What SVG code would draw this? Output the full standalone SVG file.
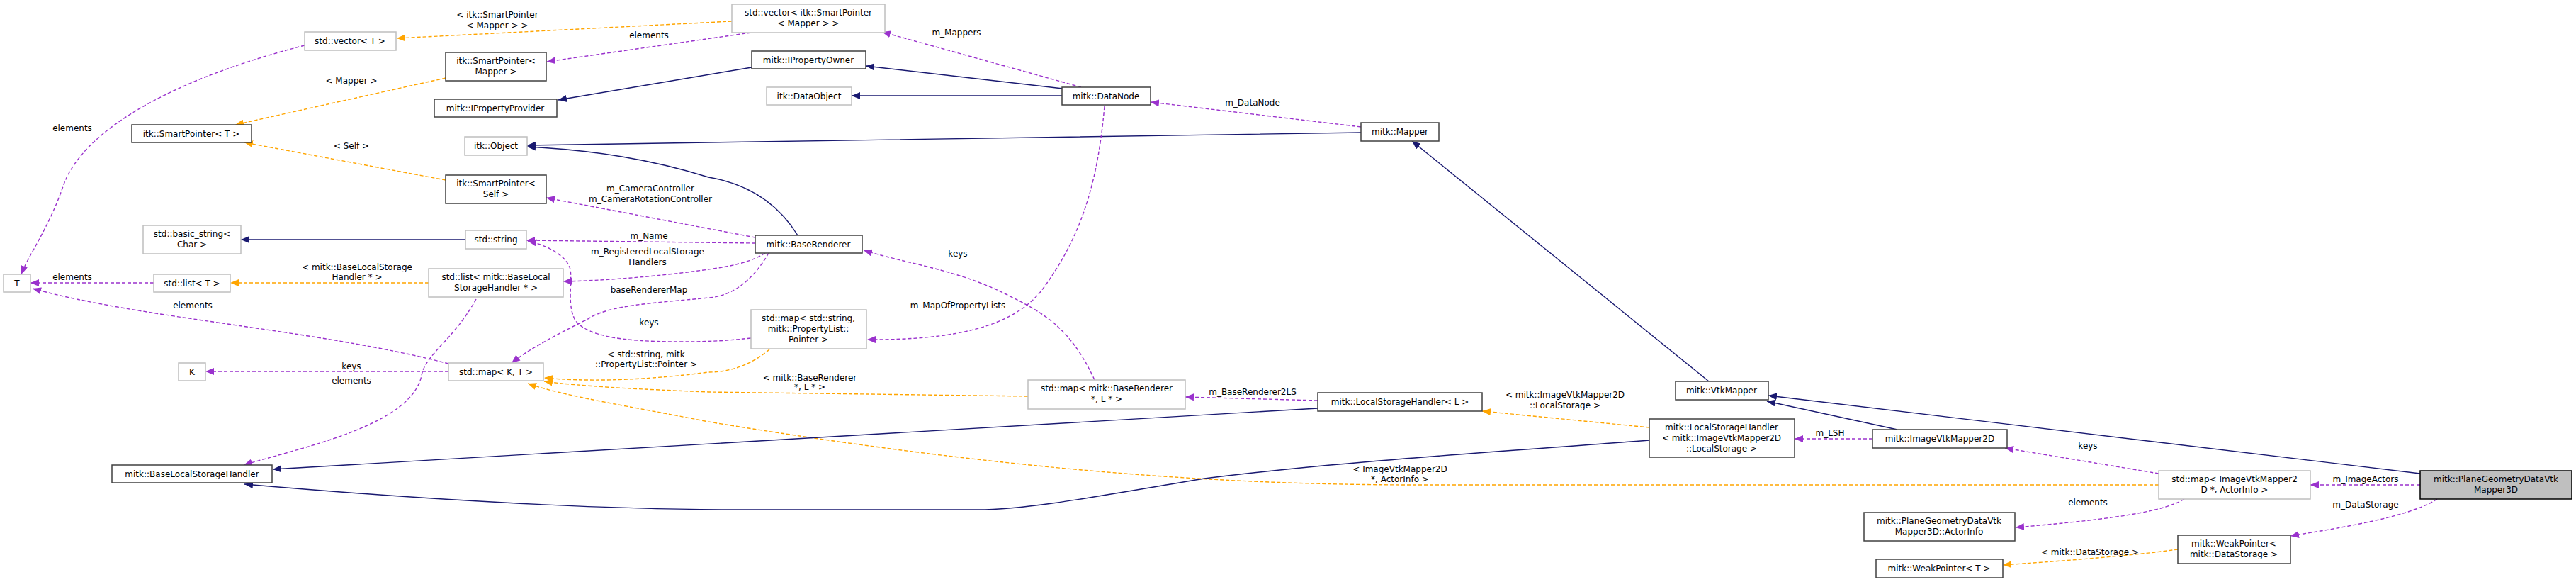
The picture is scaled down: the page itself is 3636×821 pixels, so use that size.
<svg xmlns="http://www.w3.org/2000/svg" width="3636" height="821" viewBox="0 0 3636 821">
<style>
text{font-family:"DejaVu Sans","Liberation Sans",sans-serif;font-size:12px;fill:#000;text-anchor:middle}
.n rect{fill:#fff;stroke:#404040;stroke-width:1.5}
.u rect{fill:#fff;stroke:#bfbfbf;stroke-width:1.5}
.s rect{fill:#bfbfbf;stroke:#000;stroke-width:1.5}
.inh{fill:none;stroke:#191970;stroke-width:1.4;marker-end:url(#an)}
.use{fill:none;stroke:#9a32cd;stroke-width:1.4;stroke-dasharray:5,3;marker-end:url(#ap)}
.tpl{fill:none;stroke:#ffa500;stroke-width:1.4;stroke-dasharray:5,3;marker-end:url(#ao)}
</style>
<defs>
<marker id="an" markerUnits="userSpaceOnUse" markerWidth="12" markerHeight="10" refX="12" refY="5" orient="auto"><path d="M0,0 L12,5 L0,10 z" fill="#191970"/></marker>
<marker id="ap" markerUnits="userSpaceOnUse" markerWidth="12" markerHeight="10" refX="12" refY="5" orient="auto"><path d="M0,0 L12,5 L0,10 z" fill="#9a32cd"/></marker>
<marker id="ao" markerUnits="userSpaceOnUse" markerWidth="12" markerHeight="10" refX="12" refY="5" orient="auto"><path d="M0,0 L12,5 L0,10 z" fill="#ffa500"/></marker>
</defs>
<rect width="3636" height="821" fill="#fff"/>
<g id="edges">
<path class="tpl" d="M1033,30 L560,54"/>
<text x="702" y="25">&lt; itk::SmartPointer</text><text x="702" y="40">&lt; Mapper &gt; &gt;</text>
<path class="use" d="M1060,46 L772,87"/>
<text x="916" y="54">elements</text>
<path class="tpl" d="M629,110 L332,176"/>
<text x="496" y="118">&lt; Mapper &gt;</text>
<path class="use" d="M430,64 C250,110 120,180 90,260 C70,320 40,360 30,387"/>
<text x="102" y="185">elements</text>
<path class="inh" d="M1061,95 L788,141"/>
<path class="inh" d="M1500,125 L1222,93"/>
<path class="inh" d="M1499,135 L1202,135"/>
<path class="use" d="M1526,123 L1245,45"/>
<text x="1350" y="50">m_Mappers</text>
<path class="use" d="M1921,179 L1624,144"/>
<text x="1768" y="149">m_DataNode</text>
<path class="inh" d="M1921,187 L1000,201 L744,205"/>
<path class="inh" d="M1126,332 C1100,290 1060,260 1000,250 C920,225 840,212 744,207"/>
<path class="use" d="M1066,335 L771,279"/>
<text x="918" y="270">m_CameraController</text><text x="918" y="285">m_CameraRotationController</text>
<path class="tpl" d="M629,254 L345,201"/>
<text x="496" y="210">&lt; Self &gt;</text>
<path class="inh" d="M657,338 L340,338"/>
<path class="use" d="M1066,343 L743,339"/>
<text x="916" y="337">m_Name</text>
<path class="use" d="M1080,357 C1060,370 1030,376 1000,380 C930,390 850,396 795,397"/>
<text x="914" y="359">m_RegisteredLocalStorage</text><text x="914" y="374">Handlers</text>
<path class="tpl" d="M605,399 L325,399"/>
<text x="504" y="381">&lt; mitk::BaseLocalStorage</text><text x="504" y="395">Handler * &gt;</text>
<path class="use" d="M217,399 L43,399"/>
<text x="102" y="395">elements</text>
<path class="use" d="M633,513 C450,465 200,450 46,407"/>
<text x="272" y="435">elements</text>
<path class="use" d="M633,524 L290,524"/>
<text x="496" y="521">keys</text>
<path class="use" d="M672,422 C640,480 600,500 595,530 C580,600 430,630 344,656"/>
<text x="496" y="541">elements</text>
<path class="use" d="M1085,357 C1060,400 1030,418 1000,420 C920,428 860,430 830,450 C790,470 750,490 722,512"/>
<text x="916" y="413">baseRendererMap</text>
<path class="use" d="M1060,477 C1030,480 1010,482 960,482 C880,482 830,475 812,452 C800,430 808,400 805,380 C800,360 770,345 745,340"/>
<text x="916" y="459">keys</text>
<path class="tpl" d="M1086,493 C1060,515 1030,525 1000,525 C900,538 820,538 768,533"/>
<text x="912" y="504">&lt; std::string, mitk</text><text x="912" y="518">::PropertyList::Pointer &gt;</text>
<path class="tpl" d="M1451,559 L1000,553 C900,549 820,545 768,538"/>
<text x="1143" y="537">&lt; mitk::BaseRenderer</text><text x="1143" y="550">*, L * &gt;</text>
<path class="tpl" d="M3047,684 L2000,684 C1700,684 1400,660 1000,595 C900,575 800,560 745,541"/>
<text x="1976" y="666">&lt; ImageVtkMapper2D</text><text x="1976" y="680">*, ActorInfo &gt;</text>
<path class="use" d="M1860,565 L1673,560"/>
<text x="1768" y="557">m_BaseRenderer2LS</text>
<path class="inh" d="M1860,576 L385,662"/>
<path class="inh" d="M2328,621 C2150,635 1900,650 1700,675 C1550,700 1450,719 1380,719 L1050,719 C850,719 600,705 345,683"/>
<path class="tpl" d="M2328,603 L2092,580"/>
<text x="2209" y="561">&lt; mitk::ImageVtkMapper2D</text><text x="2209" y="576">::LocalStorage &gt;</text>
<path class="use" d="M2643,619 L2533,619"/>
<text x="2583" y="615">m_LSH</text>
<path class="inh" d="M2678,606 L2494,566"/>
<path class="inh" d="M2412,538 L1993,199"/>
<path class="inh" d="M3416,668 L2496,558"/>
<path class="use" d="M3416,684 L3261,684"/>
<text x="3339" y="680">m_ImageActors</text>
<path class="use" d="M3047,668 L2830,632"/>
<text x="2947" y="633">keys</text>
<path class="use" d="M3083,704 C3050,725 2950,735 2845,744"/>
<text x="2947" y="713">elements</text>
<path class="use" d="M3440,704 C3400,730 3300,745 3233,756"/>
<text x="3339" y="716">m_DataStorage</text>
<path class="tpl" d="M3074,775 C3000,785 2900,792 2827,797"/>
<text x="2950" y="783">&lt; mitk::DataStorage &gt;</text>
<path class="use" d="M1559,150 C1550,250 1530,330 1470,410 C1430,460 1350,480 1224,479"/>
<text x="1352" y="435">m_MapOfPropertyLists</text>
<path class="use" d="M1545,536 C1510,460 1470,440 1420,415 C1350,380 1280,372 1219,353"/>
<text x="1352" y="362">keys</text>
</g>
<g id="n_vecT" class="u"><rect x="430" y="45" width="129" height="26"/><text x="494" y="62">std::vector&lt; T &gt;</text></g>
<g id="n_vecSP" class="u"><rect x="1033" y="6" width="216" height="40"/><text x="1141" y="22">std::vector&lt; itk::SmartPointer</text><text x="1141" y="37">&lt; Mapper &gt; &gt;</text></g>
<g id="n_spMapper" class="n"><rect x="629" y="74" width="142" height="40"/><text x="700" y="90">itk::SmartPointer&lt;</text><text x="700" y="105">Mapper &gt;</text></g>
<g id="n_ipp" class="n"><rect x="613" y="140" width="173" height="25"/><text x="699" y="157">mitk::IPropertyProvider</text></g>
<g id="n_spT" class="n"><rect x="186" y="176" width="169" height="25"/><text x="270" y="193">itk::SmartPointer&lt; T &gt;</text></g>
<g id="n_itkObject" class="u"><rect x="656" y="193" width="88" height="26"/><text x="700" y="210">itk::Object</text></g>
<g id="n_spSelf" class="n"><rect x="629" y="247" width="142" height="40"/><text x="700" y="263">itk::SmartPointer&lt;</text><text x="700" y="278">Self &gt;</text></g>
<g id="n_bstr" class="u"><rect x="202" y="318" width="138" height="40"/><text x="271" y="334">std::basic_string&lt;</text><text x="271" y="349">Char &gt;</text></g>
<g id="n_str" class="u"><rect x="657" y="325" width="86" height="26"/><text x="700" y="342">std::string</text></g>
<g id="n_T" class="u"><rect x="5" y="387" width="38" height="25"/><text x="24" y="404">T</text></g>
<g id="n_listT" class="u"><rect x="217" y="387" width="108" height="25"/><text x="271" y="404">std::list&lt; T &gt;</text></g>
<g id="n_listB" class="u"><rect x="605" y="379" width="190" height="40"/><text x="700" y="395">std::list&lt; mitk::BaseLocal</text><text x="700" y="410">StorageHandler * &gt;</text></g>
<g id="n_K" class="u"><rect x="252" y="512" width="38" height="25"/><text x="271" y="529">K</text></g>
<g id="n_mapKT" class="u"><rect x="633" y="512" width="134" height="25"/><text x="700" y="529">std::map&lt; K, T &gt;</text></g>
<g id="n_blsh" class="n"><rect x="158" y="656" width="226" height="25"/><text x="271" y="673">mitk::BaseLocalStorageHandler</text></g>
<g id="n_ipo" class="n"><rect x="1061" y="72" width="161" height="25"/><text x="1141" y="89">mitk::IPropertyOwner</text></g>
<g id="n_dobj" class="u"><rect x="1082" y="123" width="120" height="25"/><text x="1142" y="140">itk::DataObject</text></g>
<g id="n_dnode" class="n"><rect x="1499" y="123" width="125" height="25"/><text x="1561" y="140">mitk::DataNode</text></g>
<g id="n_mapper" class="n"><rect x="1921" y="173" width="110" height="26"/><text x="1976" y="190">mitk::Mapper</text></g>
<g id="n_br" class="n"><rect x="1066" y="332" width="151" height="25"/><text x="1141" y="349">mitk::BaseRenderer</text></g>
<g id="n_mapSP" class="u"><rect x="1060" y="437" width="163" height="55"/><text x="1141" y="453">std::map&lt; std::string,</text><text x="1141" y="468">mitk::PropertyList::</text><text x="1141" y="483">Pointer &gt;</text></g>
<g id="n_mapBR" class="u"><rect x="1451" y="536" width="222" height="41"/><text x="1562" y="552">std::map&lt; mitk::BaseRenderer</text><text x="1562" y="567">*, L * &gt;</text></g>
<g id="n_lshL" class="n"><rect x="1860" y="554" width="232" height="26"/><text x="1976" y="571">mitk::LocalStorageHandler&lt; L &gt;</text></g>
<g id="n_vtk" class="n"><rect x="2365" y="538" width="131" height="26"/><text x="2430" y="555">mitk::VtkMapper</text></g>
<g id="n_lshI" class="n"><rect x="2328" y="591" width="205" height="54"/><text x="2430" y="607">mitk::LocalStorageHandler</text><text x="2430" y="622">&lt; mitk::ImageVtkMapper2D</text><text x="2430" y="637">::LocalStorage &gt;</text></g>
<g id="n_ivm" class="n"><rect x="2643" y="606" width="190" height="26"/><text x="2738" y="623">mitk::ImageVtkMapper2D</text></g>
<g id="n_mapIA" class="u"><rect x="3047" y="664" width="214" height="40"/><text x="3154" y="680">std::map&lt; ImageVtkMapper2</text><text x="3154" y="695">D *, ActorInfo &gt;</text></g>
<g id="n_pg" class="s"><rect x="3416" y="664" width="214" height="40"/><text x="3523" y="680">mitk::PlaneGeometryDataVtk</text><text x="3523" y="695">Mapper3D</text></g>
<g id="n_ai" class="n"><rect x="2631" y="723" width="213" height="40"/><text x="2737" y="739">mitk::PlaneGeometryDataVtk</text><text x="2737" y="754">Mapper3D::ActorInfo</text></g>
<g id="n_wpDS" class="n"><rect x="3074" y="755" width="159" height="40"/><text x="3153" y="771">mitk::WeakPointer&lt;</text><text x="3153" y="786">mitk::DataStorage &gt;</text></g>
<g id="n_wpT" class="n"><rect x="2648" y="789" width="179" height="26"/><text x="2737" y="806">mitk::WeakPointer&lt; T &gt;</text></g>
</svg>
